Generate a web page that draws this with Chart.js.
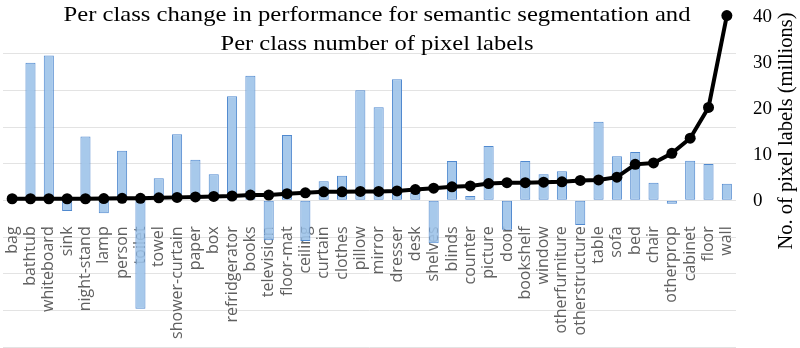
<!DOCTYPE html>
<html>
<head>
<meta charset="utf-8">
<script src="https://cdn.jsdelivr.net/npm/chart.js@4"></script>
<style>
  html, body { margin: 0; padding: 0; background: #fff; }
  #wrap { width: 800px; height: 348px; }
</style>
</head>
<body>
<div id="wrap"><canvas id="myChart"></canvas></div>
<script>
const classes = ['bag', 'bathtub', 'whiteboard', 'sink', 'night-stand', 'lamp', 'person', 'toilet',
  'towel', 'shower-curtain', 'paper', 'box', 'refridgerator', 'books', 'television', 'floor-mat',
  'ceiling', 'curtain', 'clothes', 'pillow', 'mirror', 'dresser', 'desk', 'shelves', 'blinds',
  'counter', 'picture', 'door', 'bookshelf', 'window', 'otherfurniture', 'otherstructure', 'table',
  'sofa', 'bed', 'chair', 'otherprop', 'cabinet', 'floor', 'wall'];

// change in performance per class (left axis, labels hidden)
const perfChange = [0, 3.75, 3.95, -0.29, 1.74, -0.35, 1.35, -2.96, 0.6, 1.8, 1.11, 0.71, 2.84, 3.4,
  -1.09, 1.78, -1.11, 0.52, 0.67, 3.0, 2.54, 3.3, 0.2, -1.17, 1.07, 0.12, 1.48, -0.8, 1.07, 0.71,
  0.79, -0.67, 2.14, 1.2, 1.32, 0.48, -0.09, 1.08, 0.99, 0.45];

// pixel labels per class, millions (right axis)
const pixelLabels = [0.4, 0.4, 0.4, 0.4, 0.4, 0.45, 0.5, 0.5, 0.6, 0.7, 0.8, 0.9, 1.0, 1.2, 1.2, 1.5,
  1.7, 1.9, 1.9, 2.0, 2.0, 2.1, 2.4, 2.7, 3.0, 3.2, 3.7, 3.9, 3.9, 4.0, 4.1, 4.4, 4.5, 5.1, 7.9, 8.2,
  10.3, 13.6, 20.3, 40.3];

const rightTicks = [0, 10, 20, 30, 40];

const titleLines = ['Per class change in performance for semantic segmentation and',
  'Per class number of pixel labels'];
const rightTitle = 'No. of pixel labels (millions)';

const serif = '"Liberation Serif", "DejaVu Serif", serif';

// draw text centred at (x, y), stretched sideways to the given width
function wideText(ctx, text, x, y, width) {
  const w = ctx.measureText(text).width;
  ctx.save();
  ctx.translate(x, y);
  ctx.scale(width / w, 1);
  ctx.fillText(text, 0, 0);
  ctx.restore();
}

// title and right axis caption drawn by hand (caption reads bottom to top)
const textPlugin = {
  id: 'texts',
  afterDraw(chart) {
    const ctx = chart.ctx;
    ctx.save();
    ctx.fillStyle = '#000';
    ctx.font = '21px ' + serif;
    ctx.textAlign = 'center';
    ctx.textBaseline = 'alphabetic';
    wideText(ctx, titleLines[0], 377, 21, 627);
    wideText(ctx, titleLines[1], 377, 50, 313);
    ctx.translate(787, 131);
    ctx.rotate(-Math.PI / 2);
    ctx.font = '20px ' + serif;
    ctx.textBaseline = 'middle';
    wideText(ctx, rightTitle, 0, 0, 237);
    ctx.restore();
  }
};

// keep the axes from reserving extra room round the plot
function noPadding(scale) {
  scale.paddingLeft = 0;
  scale.paddingRight = 0;
  scale.paddingTop = 0;
  scale.paddingBottom = 0;
}

const ctx = document.getElementById('myChart').getContext('2d');
const myChart = new Chart(ctx, {
  data: {
    labels: classes,
    datasets: [{
      type: 'line',
      label: 'No. of pixel labels',
      data: pixelLabels,
      yAxisID: 'y1',
      borderColor: '#000',
      backgroundColor: '#000',
      borderWidth: 4,
      pointRadius: 5.5,
      pointBackgroundColor: '#000',
      pointBorderWidth: 0,
      tension: 0,
      clip: false,
      order: 0
    }, {
      type: 'bar',
      label: 'Change in performance',
      data: perfChange,
      yAxisID: 'y',
      backgroundColor: 'rgba(157, 195, 233, 0.9)',
      borderColor: '#5089cf',
      borderWidth: 1,
      borderSkipped: false,
      categoryPercentage: 1,
      barPercentage: 0.55,
      order: 1
    }]
  },
  options: {
    responsive: true,
    maintainAspectRatio: false,
    animation: false,
    layout: { autoPadding: false, padding: { left: 3, top: 17, bottom: 1, right: 0 } },
    plugins: {
      legend: { display: false },
      tooltip: { enabled: false }
    },
    scales: {
      x: {
        position: { y: 0 },
        grid: { display: false, drawTicks: false },
        border: { display: false },
        ticks: {
          autoSkip: false,
          minRotation: 90,
          maxRotation: 90,
          padding: 26,
          color: '#606060',
          font: { family: '"Open Sans", "Noto Sans", sans-serif', size: 16 }
        },
        afterFit: (scale) => { noPadding(scale); scale.height = 0; }
      },
      y: {
        position: 'left',
        min: -4,
        max: 5,
        ticks: { display: false, stepSize: 1 },
        grid: {
          drawTicks: false,
          color: (c) => c.tick && c.tick.value === 5 ? 'rgba(0,0,0,0)' : '#e3e3e3'
        },
        border: { display: false },
        afterFit: (scale) => { noPadding(scale); scale.width = 0; }
      },
      y1: {
        position: 'right',
        min: -31.9,
        max: 40,
        grid: { display: false, drawTicks: false },
        border: { display: false },
        afterBuildTicks: (scale) => { scale.ticks = rightTicks.map(v => ({ value: v })); },
        ticks: {
          padding: 17,
          color: '#000',
          font: { family: serif, size: 19 }
        },
        afterFit: (scale) => { noPadding(scale); scale.width = 64; }
      }
    }
  },
  plugins: [textPlugin]
});
</script>
</body>
</html>
